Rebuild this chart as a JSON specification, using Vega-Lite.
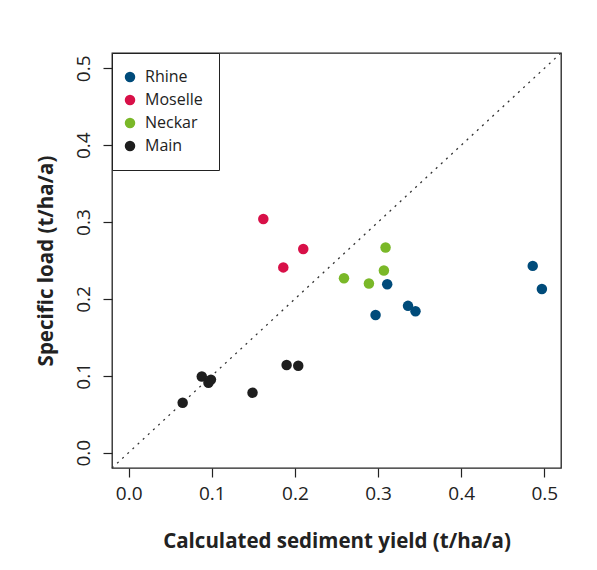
{
  "$schema": "https://vega.github.io/schema/vega-lite/v6.json",
  "width": 449,
  "height": 415,
  "autosize": {"type": "none"},
  "padding": {"left": 112, "top": 53, "right": 36, "bottom": 102},
  "background": "white",
  "config": {
    "font": "Open Sans",
    "view": {"stroke": "#222222", "strokeWidth": 1.3},
    "axis": {
      "grid": false,
      "domain": false,
      "tickSize": 9,
      "tickColor": "#222222",
      "tickWidth": 1.2,
      "labelFont": "Open Sans",
      "labelFontSize": 19,
      "labelColor": "#222222",
      "titleFont": "Open Sans",
      "titleFontSize": 20.5,
      "titleFontWeight": "bold",
      "titleColor": "#222222"
    }
  },
  "layer": [
    {
      "data": {"values": [{"yield": -0.02, "load": -0.02}, {"yield": 0.52, "load": 0.52}]},
      "mark": {"type": "line", "strokeDash": [2, 5], "color": "#333333", "strokeWidth": 1.3},
      "encoding": {
        "x": {"field": "yield", "type": "quantitative"},
        "y": {"field": "load", "type": "quantitative"}
      }
    },
    {
      "data": {
        "values": [
          {"river": "Rhine", "yield": 0.486, "load": 0.243},
          {"river": "Rhine", "yield": 0.497, "load": 0.213},
          {"river": "Rhine", "yield": 0.311, "load": 0.219},
          {"river": "Rhine", "yield": 0.297, "load": 0.179},
          {"river": "Rhine", "yield": 0.336, "load": 0.191},
          {"river": "Rhine", "yield": 0.345, "load": 0.184},
          {"river": "Moselle", "yield": 0.162, "load": 0.304},
          {"river": "Moselle", "yield": 0.186, "load": 0.241},
          {"river": "Moselle", "yield": 0.210, "load": 0.265},
          {"river": "Neckar", "yield": 0.309, "load": 0.267},
          {"river": "Neckar", "yield": 0.307, "load": 0.237},
          {"river": "Neckar", "yield": 0.259, "load": 0.227},
          {"river": "Neckar", "yield": 0.289, "load": 0.220},
          {"river": "Main", "yield": 0.065, "load": 0.065},
          {"river": "Main", "yield": 0.088, "load": 0.099},
          {"river": "Main", "yield": 0.096, "load": 0.091},
          {"river": "Main", "yield": 0.099, "load": 0.095},
          {"river": "Main", "yield": 0.149, "load": 0.078},
          {"river": "Main", "yield": 0.190, "load": 0.114},
          {"river": "Main", "yield": 0.204, "load": 0.113}
        ]
      },
      "mark": {"type": "circle", "size": 110, "opacity": 1},
      "encoding": {
        "x": {
          "field": "yield",
          "type": "quantitative",
          "scale": {"domain": [-0.02, 0.52], "nice": false, "zero": false},
          "axis": {
            "title": "Calculated sediment yield (t/ha/a)",
            "values": [0, 0.1, 0.2, 0.3, 0.4, 0.5],
            "format": ".1f",
            "labelPadding": 7,
            "titlePadding": 28
          }
        },
        "y": {
          "field": "load",
          "type": "quantitative",
          "scale": {"domain": [-0.02, 0.52], "nice": false, "zero": false},
          "axis": {
            "title": "Specific load (t/ha/a)",
            "values": [0, 0.1, 0.2, 0.3, 0.4, 0.5],
            "format": ".1f",
            "labelAngle": -90,
            "labelAlign": "center",
            "labelBaseline": "bottom",
            "labelPadding": 10,
            "titlePadding": 18
          }
        },
        "color": {
          "field": "river",
          "type": "nominal",
          "sort": null,
          "scale": {
            "domain": ["Rhine", "Moselle", "Neckar", "Main"],
            "range": ["#004b7a", "#d81048", "#7ab828", "#1e1e1e"]
          },
          "legend": {
            "title": null,
            "orient": "top-left",
            "offset": 0,
            "strokeColor": "#222222",
            "fillColor": "white",
            "padding": 16,
            "symbolType": "circle",
            "symbolSize": 110,
            "symbolStrokeWidth": 0,
            "symbolOpacity": 1,
            "symbolOffset": -6,
            "labelFont": "Open Sans",
            "labelFontSize": 16,
            "labelColor": "#222222",
            "labelOffset": 7,
            "rowPadding": 7
          }
        }
      }
    }
  ]
}
